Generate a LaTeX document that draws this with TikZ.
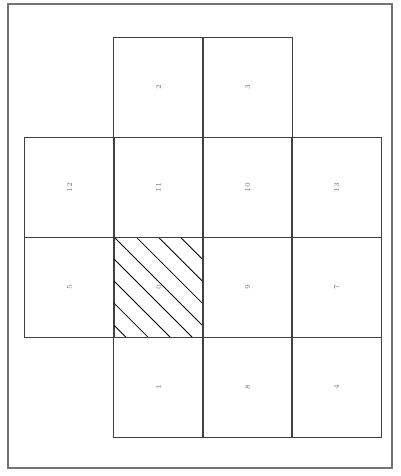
\documentclass[tikz,border=0pt]{standalone}
\usepackage{xcolor}
\usetikzlibrary{patterns.meta}

\begin{document}
\begin{tikzpicture}[x=0.025cm, y=-0.025cm,
    cell/.style={draw=black!75, line width=0.7pt, minimum width=2.5cm, minimum height=2.225cm,
        inner sep=0pt, font=\tiny, text=black!55, rotate=90},
    hatched/.style={pattern={Lines[angle=-45, distance=0.39cm, line width=0.6pt]}}]
    \useasboundingbox (0,0) rectangle (401,476);
    \draw[black!55, line width=0.8pt] (8,4) rectangle (392,468);
    % top row
    \node[cell] (c2) at (158.5,87.5) {2};
    \node[cell] (c3) at (247.5,87.5) {3};
    % second row
    \node[cell] (c12) at (69.5,187.5) {12};
    \node[cell] (c11) at (158.5,187.5) {11};
    \node[cell] (c10) at (247.5,187.5) {10};
    \node[cell] (c13) at (336.5,187.5) {13};
    % third row
    \node[cell] (c5) at (69.5,287.5) {5};
    \node[cell, hatched] (c0) at (158.5,287.5) {0};
    \node[cell] (c9) at (247.5,287.5) {9};
    \node[cell] (c7) at (336.5,287.5) {7};
    % bottom row
    \node[cell] (c1) at (158.5,387.5) {1};
    \node[cell] (c8) at (247.5,387.5) {8};
    \node[cell] (c4) at (336.5,387.5) {4};
\end{tikzpicture}
\end{document}
